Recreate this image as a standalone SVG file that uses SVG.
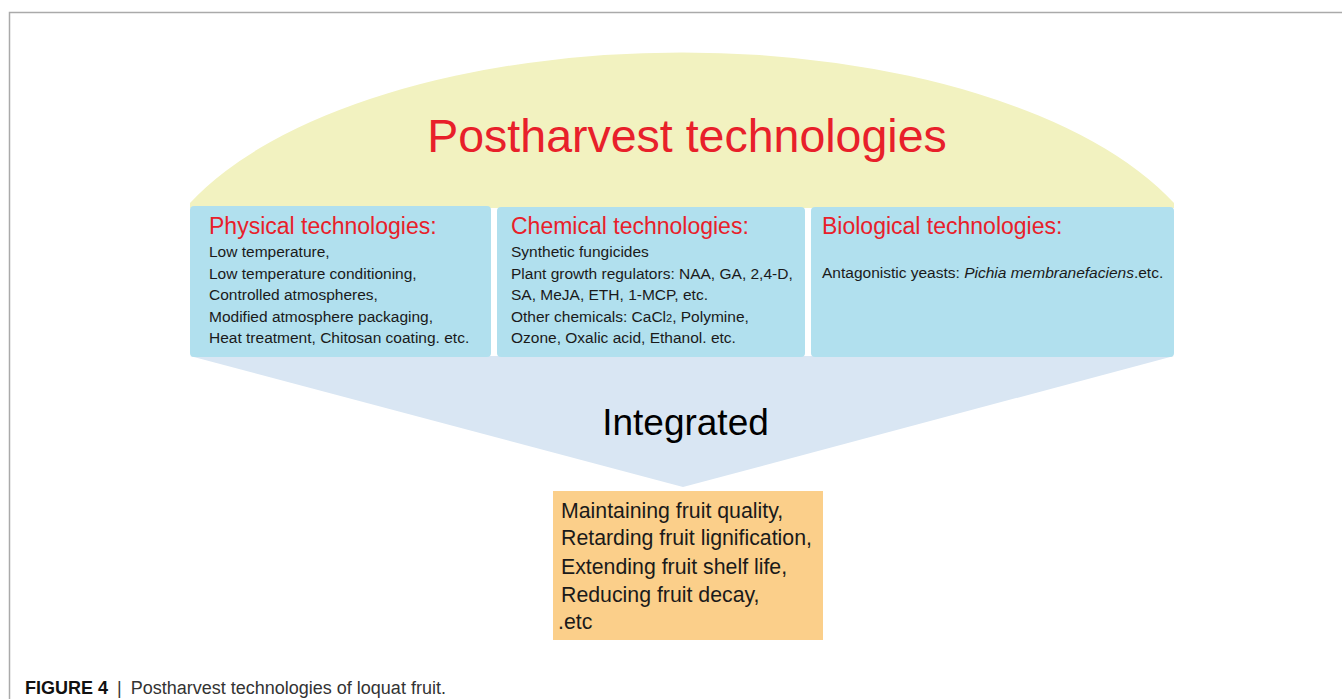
<svg xmlns="http://www.w3.org/2000/svg" width="1342" height="699" viewBox="0 0 1342 699">
<style>
  text { font-family: "Liberation Sans", Arial, sans-serif; }
  .head { fill: #e8202a; font-size: 23px; }
  .body { fill: #1a1a1a; font-size: 15.5px; }
  .out { fill: #1a1a1a; font-size: 21.3px; }
  .box { fill: #b1e0ee; }
</style>
<rect width="1342" height="699" fill="#ffffff"/>
<path d="M9.5,699 V12.5 H1342" fill="none" stroke="#aaaaaa" stroke-width="1.5"/>
<g id="dome">
  <path d="M190,208 L190,203 A535,248 0 0 1 1174,203 L1174,208 Z" fill="#f2f2c0"/>
  <text x="687" y="152" text-anchor="middle" style="fill:#e8202a;font-size:46.5px">Postharvest technologies</text>
</g>
<g id="connectors">
  <path d="M190,356 L1174,356 L683,487 Z" fill="#d9e6f3"/>
</g>
<g id="integrated">
  <text x="685.5" y="435" text-anchor="middle" style="fill:#000;font-size:37px">Integrated</text>
</g>
<g id="physical">
  <rect class="box" x="190" y="206" width="301" height="151" rx="4"/>
  <text class="head" x="209" y="234">Physical technologies:</text>
  <text class="body" x="209" y="257">Low temperature,</text>
  <text class="body" x="209" y="278.5">Low temperature conditioning,</text>
  <text class="body" x="209" y="300">Controlled atmospheres,</text>
  <text class="body" x="209" y="321.5">Modified atmosphere packaging,</text>
  <text class="body" x="209" y="343">Heat treatment, Chitosan coating. etc.</text>
</g>
<g id="chemical">
  <rect class="box" x="497" y="207" width="308" height="150" rx="4"/>
  <text class="head" x="511" y="234">Chemical technologies:</text>
  <text class="body" x="511" y="257">Synthetic fungicides</text>
  <text class="body" x="511" y="278.5">Plant growth regulators: NAA, GA, 2,4-D,</text>
  <text class="body" x="511" y="300">SA, MeJA, ETH, 1-MCP, etc.</text>
  <text class="body" x="511" y="321.5">Other chemicals: CaCl<tspan font-size="11px">2</tspan>, Polymine,</text>
  <text class="body" x="511" y="343">Ozone, Oxalic acid, Ethanol. etc.</text>
</g>
<g id="biological">
  <rect class="box" x="811" y="207" width="363" height="150" rx="4"/>
  <text class="head" x="822" y="234">Biological technologies:</text>
  <text class="body" x="822" y="278">Antagonistic yeasts: <tspan font-style="italic">Pichia membranefaciens</tspan>.etc.</text>
</g>
<g id="outcomes">
  <rect x="553" y="491" width="270" height="149" fill="#fbcf8a"/>
  <text class="out" x="561" y="518">Maintaining fruit quality,</text>
  <text class="out" x="561" y="545">Retarding fruit lignification,</text>
  <text class="out" x="561" y="574">Extending fruit shelf life,</text>
  <text class="out" x="561" y="602">Reducing fruit decay,</text>
  <text class="out" x="558" y="629">.etc</text>
</g>
<text x="25" y="694" style="font-size:18px;fill:#111"><tspan font-weight="bold">FIGURE 4</tspan><tspan dx="9" fill="#333">|</tspan><tspan dx="9" fill="#333">Postharvest technologies of loquat fruit.</tspan></text>
</svg>
